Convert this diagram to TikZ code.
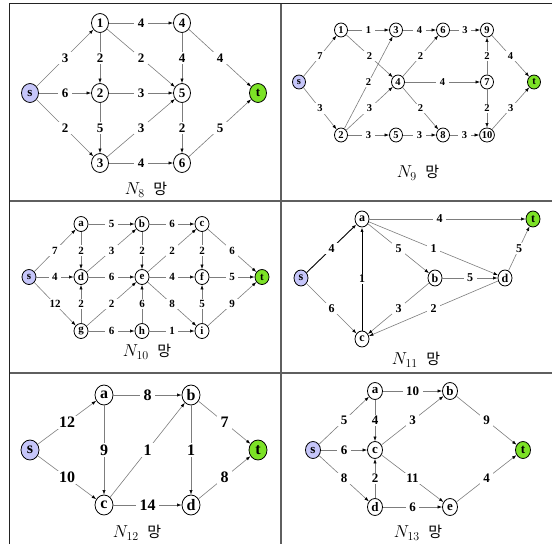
\documentclass[tikz,border=0pt]{standalone}
\usepackage{fontspec}
\setmainfont{Liberation Serif}
\newfontfamily\hangul{Noto Sans CJK KR}
\usetikzlibrary{arrows.meta,shapes.geometric}
\definecolor{srcBlue}{RGB}{198,198,250}
\definecolor{sinkGreen}{RGB}{124,226,38}
\definecolor{wire}{RGB}{125,125,125}
\definecolor{frameInk}{RGB}{35,35,35}
\definecolor{splitInk}{RGB}{95,95,95}

\newcommand{\fsz}[1]{\bfseries\fontsize{#1}{#1}\selectfont}

\begin{document}
\begin{tikzpicture}[x=1pt,y=-1pt,
  vtx/.style={draw=black,line width=0.8pt,ellipse,inner sep=0pt,fill=white},
  src/.style={vtx,fill=srcBlue},
  sink/.style={vtx,fill=sinkGreen},
  edge/.style={draw=wire,line width=0.6pt,-{Latex[length=4.5pt,width=3.2pt,color=black]}},
  heavy/.style={edge,draw=black,line width=0.9pt},
  wt/.style={fill=white,inner xsep=3.5pt,inner ysep=1.5pt},
  netcap/.style={font=\fontsize{17}{17}\selectfont}]
  \useasboundingbox (0,0) rectangle (552,544);
  % frame
  \draw[frameInk,line width=1.2pt] (9.5,544) -- (9.5,3.5) -- (552,3.5);
  \draw[splitInk,line width=1.6pt] (281,3.5) -- (281,544);
  \draw[splitInk,line width=1.2pt] (9.5,201) -- (552,201);
  \draw[splitInk,line width=1.2pt] (9.5,373) -- (552,373);

  % N8
  \begin{scope}[vtx/.append style={minimum width=17pt,minimum height=19pt},
                every node/.append style={font=\fsz{13}}]
    \node[src]  (p8-s) at (30,93) {s};
    \node[sink] (p8-t) at (258,93) {t};
    \foreach \n/\x/\y in {1/100/23,4/182/23,2/100/93,5/182/93,3/100/163,6/182/163}
      \node[vtx] (p8-\n) at (\x,\y) {\n};
    \foreach \a/\b/\w in {s/1/3,s/2/6,s/3/2,1/4/4,1/2/2,1/5/2,4/5/4,4/t/4,
                          2/5/3,2/3/5,3/5/3,5/6/2,3/6/4,6/t/5}
      \draw[edge] (p8-\a) -- node[wt]{\w} (p8-\b);
    \node[netcap] (p8-cap) at (146,190) {$N_{8}$\ \ {\hangul\fontsize{15}{15}\selectfont 망}};
  \end{scope}

  % N9
  \begin{scope}[vtx/.append style={minimum width=13pt,minimum height=14pt},
                every node/.append style={font=\fsz{10.5}}]
    \node[src]  (p9-s) at (299,82) {s};
    \node[sink] (p9-t) at (534,82) {t};
    \foreach \n/\x/\y in {1/341/30,3/396/30,6/443/30,9/487/30,4/398/82,7/487/82,
                          2/341/135,5/396/135,8/443/135,10/487/135}
      \node[vtx] (p9-\n) at (\x,\y) {\n};
    \foreach \a/\b/\w in {s/1/7,s/2/3,1/3/1,1/4/2,2/3/2,2/4/3,2/5/3,3/6/4,4/6/2,
                          4/7/4,4/8/2,5/8/3,6/9/3,7/9/2,7/10/2,8/10/3,9/t/4,10/t/3}
      \draw[edge] (p9-\a) -- node[wt]{\w} (p9-\b);
    \node[netcap] (p9-cap) at (418,173) {$N_{9}$\ \ {\hangul\fontsize{15}{15}\selectfont 망}};
  \end{scope}

  % N10
  \begin{scope}[vtx/.append style={minimum width=14pt,minimum height=15pt},
                every node/.append style={font=\fsz{11}}]
    \node[src]  (p10-s) at (29,277) {s};
    \node[sink] (p10-t) at (262,277) {t};
    \foreach \n/\x/\y in {a/81/224,b/142/224,c/202/224,d/81/277,e/142/277,f/202/277,
                          g/81/331,h/142/331,i/202/331}
      \node[vtx] (p10-\n) at (\x,\y) {\n};
    \foreach \a/\b/\w in {s/a/7,s/d/4,s/g/12,a/b/5,a/d/2,b/c/6,d/b/3,b/e/2,e/c/2,
                          c/f/2,c/t/6,d/e/6,e/f/4,f/t/5,g/d/2,g/e/2,h/e/6,e/i/8,
                          i/f/5,g/h/6,h/i/1,i/t/9}
      \draw[edge] (p10-\a) -- node[wt]{\w} (p10-\b);
    \node[netcap] (p10-cap) at (147,352) {$N_{10}$\ \ {\hangul\fontsize{15}{15}\selectfont 망}};
  \end{scope}

  % N11
  \begin{scope}[vtx/.append style={minimum width=14pt,minimum height=16pt},
                every node/.append style={font=\fsz{12}}]
    \node[src]  (p11-s) at (301,278) {s};
    \node[sink] (p11-t) at (533,219) {t};
    \foreach \n/\x/\y in {a/362/219,b/435/278,d/505/278,c/362/339}
      \node[vtx] (p11-\n) at (\x,\y) {\n};
    \draw[heavy] (p11-s) -- node[wt]{4} (p11-a);
    \draw[heavy] (p11-c) -- node[wt]{1} (p11-a);
    \draw[edge] (p11-a) -- node[wt,pos=0.45]{4} (p11-t);
    \foreach \a/\b/\w in {s/c/6,a/b/5,a/d/1,b/d/5,b/c/3,d/c/2,d/t/5}
      \draw[edge] (p11-\a) -- node[wt]{\w} (p11-\b);
    \node[netcap] (p11-cap) at (416,360) {$N_{11}$\ \ {\hangul\fontsize{15}{15}\selectfont 망}};
  \end{scope}

  % N12
  \begin{scope}[vtx/.append style={minimum width=18pt,minimum height=20pt},
                every node/.append style={font=\fsz{16}}]
    \node[src]  (p12-s) at (30,450) {s};
    \node[sink] (p12-t) at (258,450) {t};
    \foreach \n/\x/\y in {a/104/395,b/191/395,c/104/505,d/191/505}
      \node[vtx] (p12-\n) at (\x,\y) {\n};
    \foreach \a/\b/\w in {s/a/12,s/c/10,a/b/8,a/c/9,c/b/1,b/d/1,b/t/7,c/d/14,d/t/8}
      \draw[edge] (p12-\a) -- node[wt]{\w} (p12-\b);
    \node[netcap] (p12-cap) at (137,533) {$N_{12}$\ \ {\hangul\fontsize{15}{15}\selectfont 망}};
  \end{scope}

  % N13
  \begin{scope}[vtx/.append style={minimum width=15pt,minimum height=17pt},
                every node/.append style={font=\fsz{13}}]
    \node[src]  (p13-s) at (313,450) {s};
    \node[sink] (p13-t) at (523,450) {t};
    \foreach \n/\x/\y in {a/375/391,b/450/391,c/375/450,d/375/507,e/450/507}
      \node[vtx] (p13-\n) at (\x,\y) {\n};
    \foreach \a/\b/\w in {s/a/5,s/c/6,s/d/8,a/b/10,a/c/4,c/b/3,d/c/2,c/e/11,d/e/6,
                          b/t/9,e/t/4}
      \draw[edge] (p13-\a) -- node[wt]{\w} (p13-\b);
    \node[netcap] (p13-cap) at (418,533) {$N_{13}$\ \ {\hangul\fontsize{15}{15}\selectfont 망}};
  \end{scope}
\end{tikzpicture}
\end{document}
